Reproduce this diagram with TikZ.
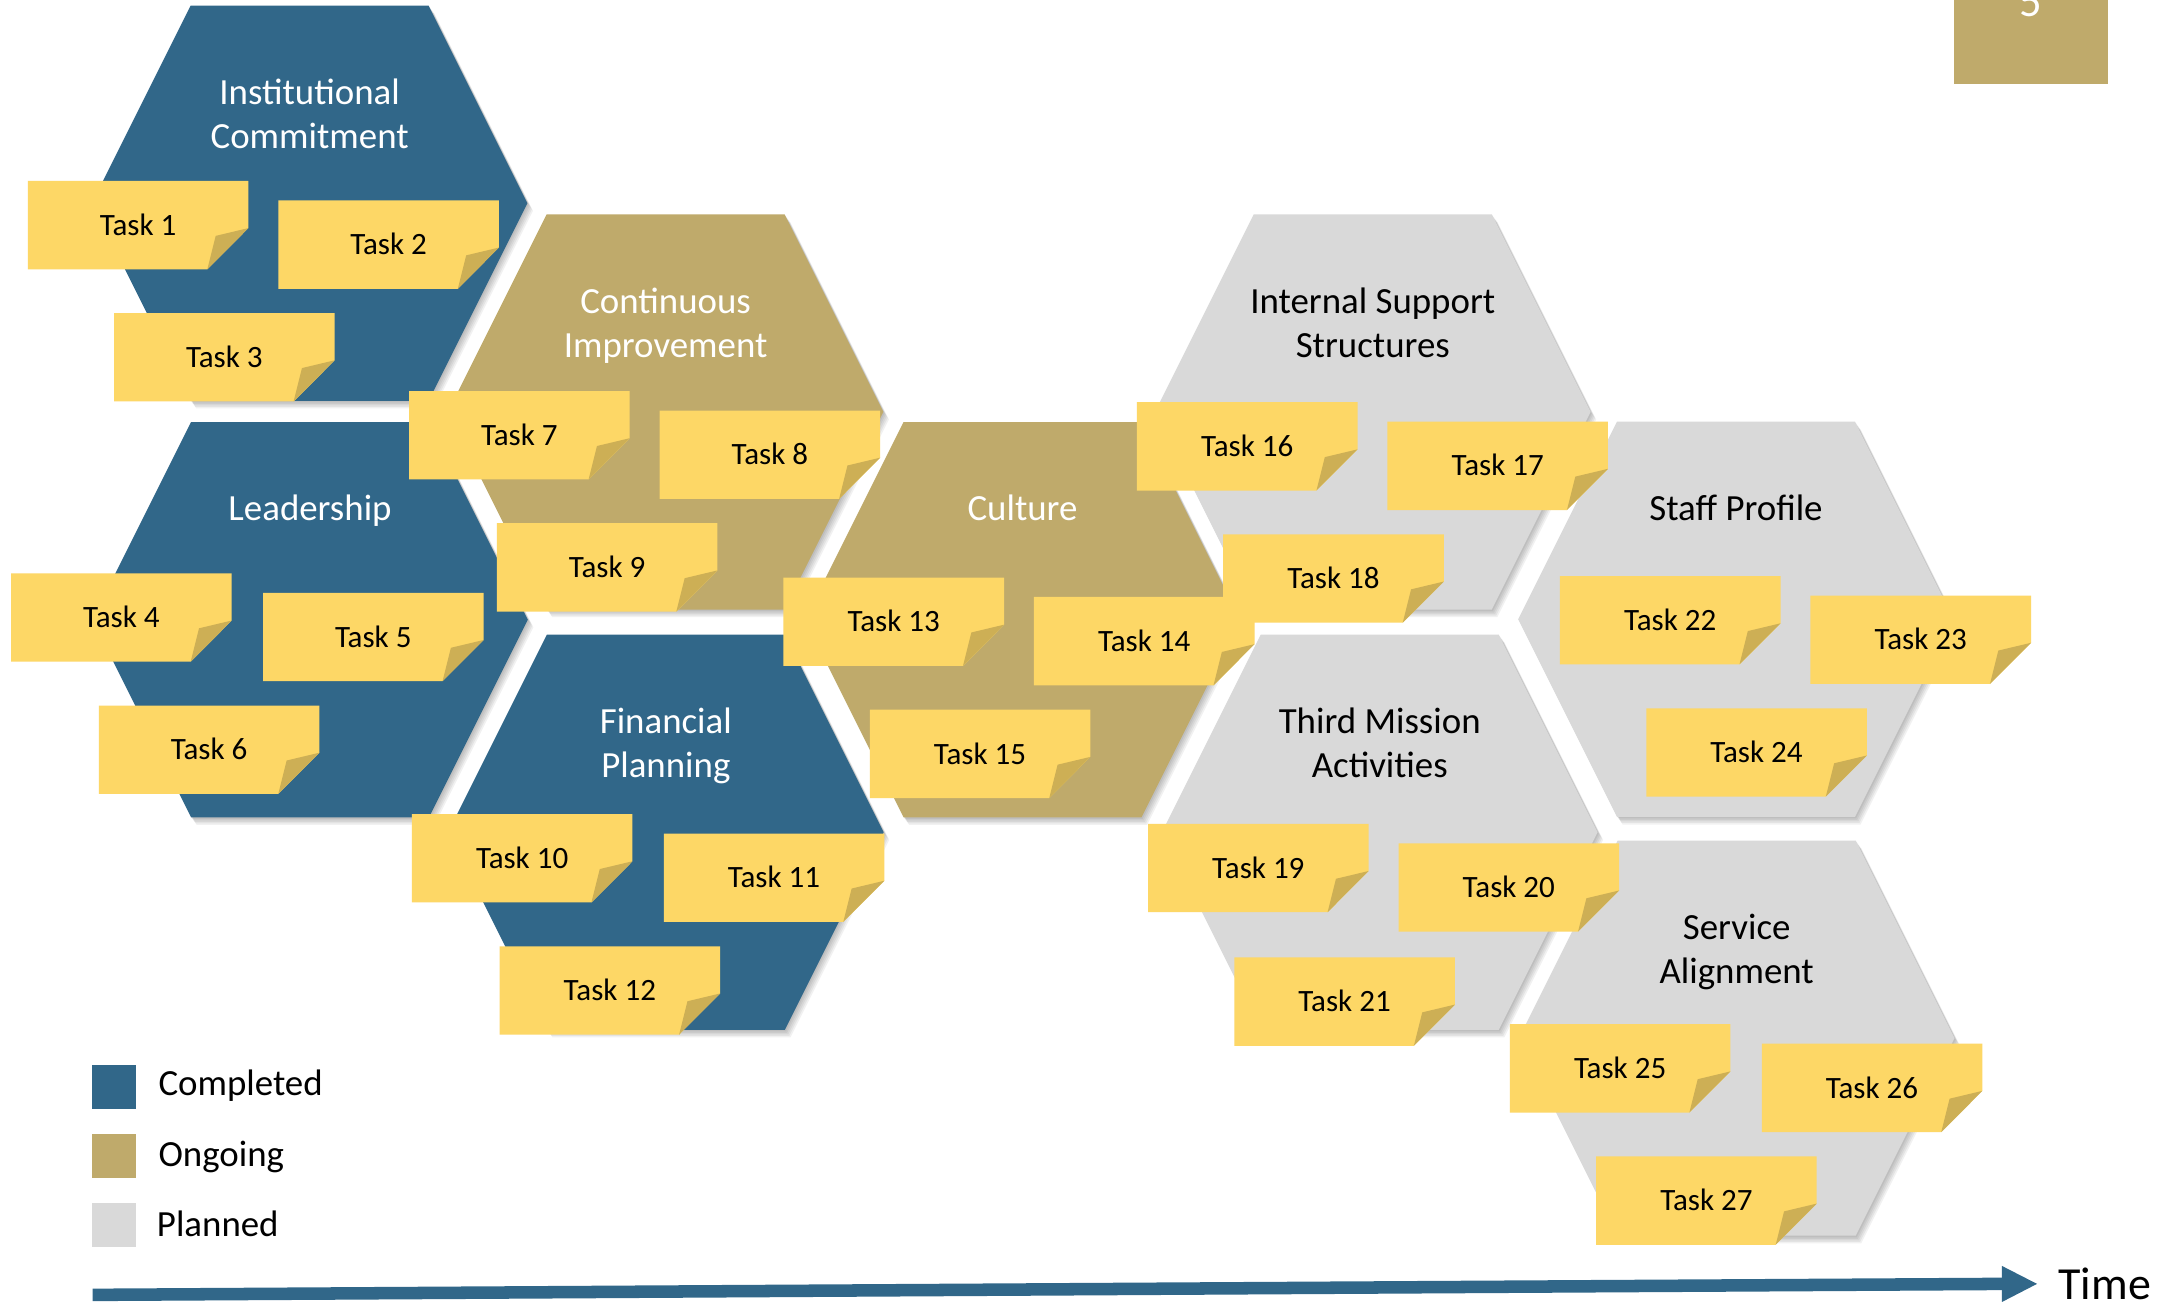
\documentclass[tikz,border=0pt]{standalone}
\usepackage{fontspec}
\setmainfont{Carlito}
\definecolor{cblue}{RGB}{49,103,137}
\definecolor{cgold}{RGB}{191,170,107}
\definecolor{cgray}{RGB}{217,217,217}
\definecolor{cnote}{RGB}{253,215,102}
\definecolor{cfold}{RGB}{205,175,85}
\newcommand{\myhex}[3]{%
  \foreach \k in {1,...,5}{\fill[hexshadow,shift={(\k*0.8,\k*1.1)}] (#1-85.5,#2-142) -- (#1+85.5,#2-142) -- (#1+156.5,#2) -- (#1+85.5,#2+142) -- (#1-85.5,#2+142) -- (#1-156.5,#2) -- cycle;}
  \fill[#3] (#1-85.5,#2-142) -- (#1+85.5,#2-142) -- (#1+156.5,#2) -- (#1+85.5,#2+142) -- (#1-85.5,#2+142) -- (#1-156.5,#2) -- cycle;}
\newcommand{\mynote}[4]{%
  \fill[notebody] (#1,#2) -- (#1+158.5,#2) -- (#1+158.5,#2+33.9) -- (#1+129,#2+63.5) -- (#1,#2+63.5) -- cycle;
  \fill[notefold] (#1+158.5,#2+33.9) -- (#1+135,#2+39.5) -- (#1+129,#2+63.5) -- cycle;
  \node[tasklabel] (#3) at (#1+79.25,#2+39.05) {#4};}
\begin{document}
\begin{tikzpicture}[x=1pt,y=-1pt,
  hexshadow/.style={black,opacity=0.055},
  hexblue/.style={fill=cblue},
  hexgold/.style={fill=cgold},
  hexgray/.style={fill=cgray},
  notebody/.style={fill=cnote},
  notefold/.style={fill=cfold},
  tasklabel/.style={font=\fontsize{22.3}{26}\selectfont, text=black, inner sep=0pt, anchor=base},
  titlew/.style={font=\fontsize{26.5}{32}\selectfont, text=white, inner sep=0pt, anchor=base},
  titlek/.style={font=\fontsize{26.5}{32}\selectfont, text=black, inner sep=0pt, anchor=base},
  legendlabel/.style={font=\fontsize{26.5}{32}\selectfont, text=black, inner sep=0pt, anchor=base west},
  timelabel/.style={font=\fontsize{33}{40}\selectfont, text=black, inner sep=0pt, anchor=base west},
]
\fill[white] (0,0) rectangle (1568,936.3);
\useasboundingbox (0,0) rectangle (1568,936.3);

% page box
\begin{scope}
\clip (0,0) rectangle (1568,936.3);
\fill[cgold] (1404.2,-5) rectangle (1514.8,60.4);
\node[font=\fontsize{32}{38}\selectfont, text=white, inner sep=0pt, anchor=base] (pagenum) at (1459,11.5) {5};
\end{scope}

% hexagons
\myhex{222.5}{146}{hexblue}
\myhex{222.8}{445.3}{hexblue}
\myhex{478.3}{296}{hexgold}
\myhex{478.5}{598}{hexblue}
\myhex{734.8}{445.3}{hexgold}
\myhex{986.5}{296}{hexgray}
\myhex{991.5}{598}{hexgray}
\myhex{1247.5}{445}{hexgray}
\myhex{1248}{746}{hexgray}

% titles
\node[titlew] (ic1) at (222.5,75) {Institutional};
\node[titlew] (ic2) at (222.5,107) {Commitment};
\node[titlew] (ci1) at (478.3,225) {Continuous};
\node[titlew] (ci2) at (478.3,257) {Improvement};
\node[titlew] (ld1) at (222.8,374) {Leadership};
\node[titlew] (cu1) at (734.8,374) {Culture};
\node[titlew] (fp1) at (478.5,527) {Financial};
\node[titlew] (fp2) at (478.5,559) {Planning};
\node[titlek] (is1) at (986.5,225) {Internal Support};
\node[titlek] (is2) at (986.5,257) {Structures};
\node[titlek] (tm1) at (991.5,527) {Third Mission};
\node[titlek] (tm2) at (991.5,559) {Activities};
\node[titlek] (sp1) at (1247.5,374) {Staff Profile};
\node[titlek] (sa1) at (1248,675) {Service};
\node[titlek] (sa2) at (1248,707) {Alignment};

% notes
\mynote{20}{130}{t1}{Task 1}
\mynote{200}{144}{t2}{Task 2}
\mynote{82}{225}{t3}{Task 3}
\mynote{294}{281}{t7}{Task 7}
\mynote{474}{295}{t8}{Task 8}
\mynote{357}{376}{t9}{Task 9}
\mynote{8}{412}{t4}{Task 4}
\mynote{189}{426}{t5}{Task 5}
\mynote{71}{507}{t6}{Task 6}
\mynote{563}{415}{t13}{Task 13}
\mynote{743}{429}{t14}{Task 14}
\mynote{625}{510}{t15}{Task 15}
\mynote{296}{585}{t10}{Task 10}
\mynote{477}{599}{t11}{Task 11}
\mynote{359}{680}{t12}{Task 12}
\mynote{817}{289}{t16}{Task 16}
\mynote{997}{303}{t17}{Task 17}
\mynote{879}{384}{t18}{Task 18}
\mynote{825}{592}{t19}{Task 19}
\mynote{1005}{606}{t20}{Task 20}
\mynote{887}{688}{t21}{Task 21}
\mynote{1121}{414}{t22}{Task 22}
\mynote{1301}{428}{t23}{Task 23}
\mynote{1183}{509}{t24}{Task 24}
\mynote{1085}{736}{t25}{Task 25}
\mynote{1266}{750}{t26}{Task 26}
\mynote{1147}{831}{t27}{Task 27}

% legend
\fill[cblue] (66,765) rectangle (97.7,797);
\fill[cgold] (66,815) rectangle (97.7,846.5);
\fill[cgray] (66,864.5) rectangle (97.7,896);
\node[legendlabel] (lg1) at (113.7,786.9) {Completed};
\node[legendlabel] (lg2) at (113.7,838.4) {Ongoing};
\node[legendlabel] (lg3) at (112.6,888.7) {Planned};

% time arrow
\coordinate (tstart) at (66.6,930.5);
\coordinate (tend) at (1440,922.6);
\draw[cblue, line width=9pt] (tstart) -- (tend);
\fill[cblue] (1438.6,909.7) -- (1463.8,922.6) -- (1438.6,935.6) -- cycle;
\node[timelabel] (time) at (1479,933.5) {Time};
\end{tikzpicture}
\end{document}
